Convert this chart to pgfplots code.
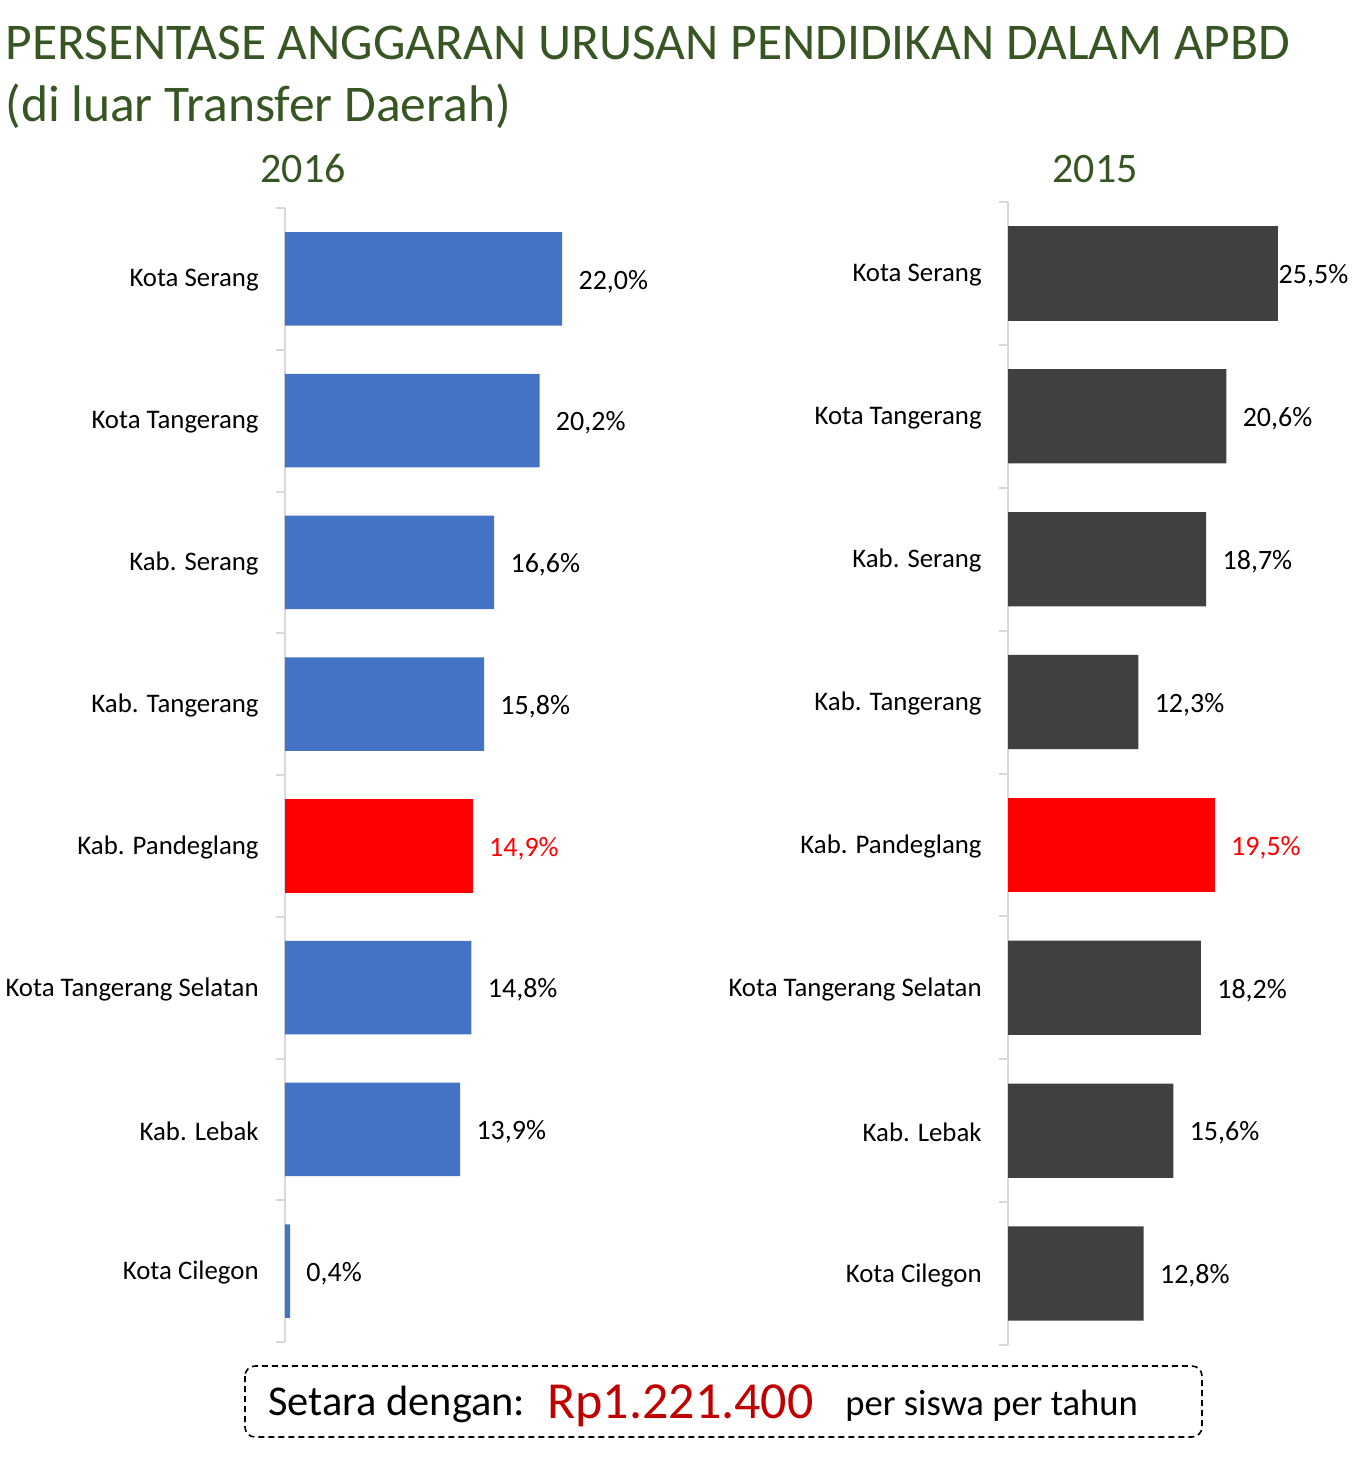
\documentclass[border=0pt]{standalone}
\usepackage{fontspec}
\setmainfont{Carlito}
\usepackage{pgfplots}
\pgfplotsset{compat=1.18}
\definecolor{titlegreen}{HTML}{375623}
\definecolor{barblue}{HTML}{4472C4}
\definecolor{bargray}{HTML}{404040}
\definecolor{barred}{HTML}{FF0000}
\definecolor{rpred}{HTML}{C00000}
\definecolor{axisgray}{HTML}{D9D9D9}
\pgfplotsset{
  panel/.style={
    scale only axis, anchor=north west,
    xbar, bar shift=0pt, bar width=0.66,
    xmin=0, xmax=30,
    ymin=-0.5, ymax=7.5, y dir=reverse,
    axis x line=none, axis y line*=left,
    y axis line style={draw=axisgray, line width=1pt, -},
    ytick={0,...,7},
    yticklabels={Kota Serang,Kota Tangerang,Kab. Serang,Kab. Tangerang,Kab. Pandeglang,Kota Tangerang Selatan,Kab. Lebak,Kota Cilegon},
    major tick length=0pt,
    minor ytick={-0.5,0.5,...,7.5},
    minor tick length=4.5pt,
    tick align=outside,
    every minor tick/.style={draw=axisgray, line width=1pt},
    yticklabel style={font=\fontsize{13.4}{15}\selectfont, anchor=east, inner sep=0pt, xshift=-13pt, yshift=-0.8pt, text=black},
    point meta=x,
    nodes near coords={\pgfmathprintnumber[fixed,fixed zerofill,precision=1,use comma,assume math mode=true]{\pgfplotspointmeta}\%},
    nodes near coords style={anchor=west, inner sep=0pt, xshift=8pt, yshift=-1.2pt, font=\fontsize{14}{16}\selectfont, text=black},
    clip=false,
  }
}
\begin{document}
\begin{tikzpicture}
\path (0,0) rectangle (685pt,-730.5pt);
\node[anchor=base west, inner sep=0pt, text=titlegreen, font=\fontsize{25.75}{30}\selectfont] at (2.5pt,-30pt) {PERSENTASE ANGGARAN URUSAN PENDIDIKAN DALAM APBD};
\node[anchor=base west, inner sep=0pt, text=titlegreen, font=\fontsize{25.75}{30}\selectfont] at (2.5pt,-61pt) {(di luar Transfer Daerah)};
\node[anchor=base, inner sep=0pt, text=titlegreen, font=\fontsize{21}{25}\selectfont] at (151.5pt,-91.5pt) {2016};
\node[anchor=base, inner sep=0pt, text=titlegreen, font=\fontsize{21}{25}\selectfont] at (547.5pt,-91.5pt) {2015};

\begin{axis}[panel, at={(142.5pt,-104pt)}, width=189pt, height=567pt]
\addplot[fill=barblue, draw=none] coordinates {(22.0,0) (20.2,1) (16.6,2) (15.8,3) (14.8,5) (13.9,6) (0.4,7)};
\addplot[fill=barred, draw=none, every node near coord/.append style={text=barred}] coordinates {(14.9,4)};
\end{axis}

\begin{axis}[panel, at={(504pt,-101pt)}, width=159pt, height=571.5pt]
\addplot[fill=bargray, draw=none, every node near coord/.append style={xshift=-8pt}] coordinates {(25.5,0)};
\addplot[fill=bargray, draw=none] coordinates {(20.6,1) (18.7,2) (12.3,3) (18.2,5) (15.6,6) (12.8,7)};
\addplot[fill=barred, draw=none, every node near coord/.append style={text=barred}] coordinates {(19.5,4)};
\end{axis}

\draw[black, line width=0.8pt, dash pattern=on 3pt off 2pt, rounded corners=5pt] (122.5pt,-683pt) rectangle (601pt,-718.5pt);
\node[anchor=base west, inner sep=0pt, font=\fontsize{21.2}{24}\selectfont] at (134pt,-707.5pt) {Setara dengan:};
\node[anchor=base west, inner sep=0pt, text=rpred, font=\fontsize{26}{30}\selectfont] at (273.5pt,-709pt) {Rp1.221.400};
\node[anchor=base west, inner sep=0pt, font=\fontsize{18.3}{22}\selectfont] at (422.5pt,-707.5pt) {per siswa per tahun};
\end{tikzpicture}
\end{document}
